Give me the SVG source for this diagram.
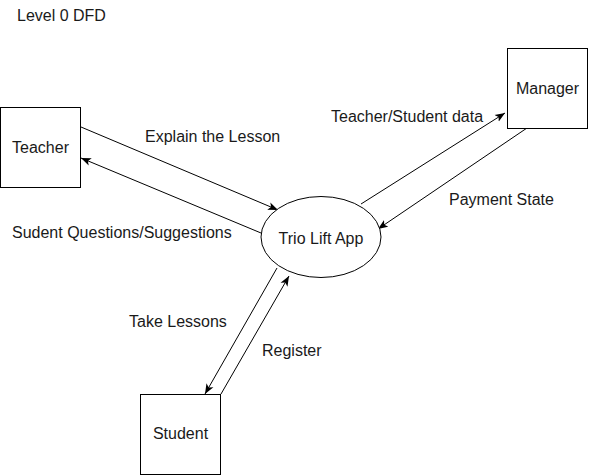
<svg xmlns="http://www.w3.org/2000/svg" width="589" height="475" viewBox="0 0 589 475">
<defs>
<style>
text{font-family:"Liberation Sans",Arial,sans-serif;font-size:16px;fill:#1a1a1a}
.node{fill:#fff;stroke:#000;stroke-width:1}
.c{text-anchor:middle}
.flow{stroke:#000;stroke-width:1;fill:none;marker-end:url(#arr)}
</style>
<marker id="arr" markerUnits="userSpaceOnUse" markerWidth="11" markerHeight="9" refX="10" refY="4.5" orient="auto">
<path d="M0,0.5 L10,4.5 L0,8.5 L2.5,4.5 Z" fill="#000"/>
</marker>
</defs>
<rect width="589" height="475" fill="#fff"/>
<text x="17" y="21">Level 0 DFD</text>
<g id="connectors">
<line class="flow" x1="81" y1="127" x2="278" y2="210"/>
<line class="flow" x1="261" y1="233" x2="81" y2="158"/>
<line class="flow" x1="361" y1="204" x2="505" y2="113"/>
<line class="flow" x1="527" y1="128" x2="378" y2="229"/>
<line class="flow" x1="277" y1="268" x2="205" y2="394"/>
<line class="flow" x1="221" y1="394" x2="289" y2="276"/>
</g>
<g id="labels">
<text x="145" y="142">Explain the Lesson</text>
<text x="12" y="238">Sudent Questions/Suggestions</text>
<text x="331" y="121.5">Teacher/Student data</text>
<text x="449" y="205">Payment State</text>
<text x="129" y="327">Take Lessons</text>
<text x="262" y="355.5">Register</text>
</g>
<g id="teacher">
<rect class="node" x="0.5" y="107.5" width="80" height="80"/>
<text class="c" x="40.5" y="153">Teacher</text>
</g>
<g id="manager">
<rect class="node" x="507.5" y="48.5" width="80" height="80"/>
<text class="c" x="547.5" y="94">Manager</text>
</g>
<g id="student">
<rect class="node" x="140.5" y="394.5" width="80" height="80"/>
<text class="c" x="180.5" y="439">Student</text>
</g>
<g id="trio">
<ellipse class="node" cx="321" cy="237" rx="60" ry="40.5"/>
<text class="c" x="321" y="243.5">Trio Lift App</text>
</g>
</svg>
